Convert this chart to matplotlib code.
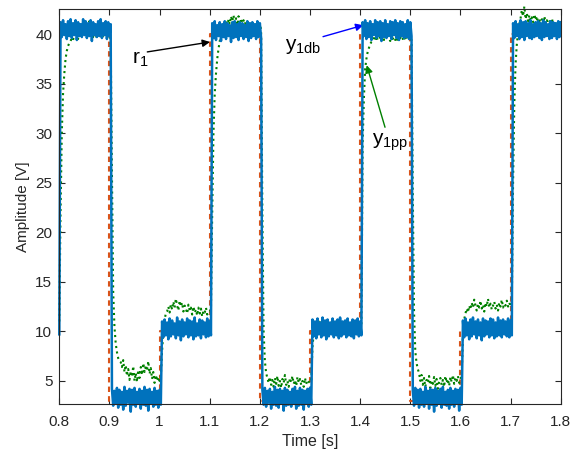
import numpy as np
import matplotlib
matplotlib.use("Agg")
import matplotlib.pyplot as plt

plt.rcParams['font.family'] = ['Liberation Sans', 'DejaVu Sans']
plt.rcParams['mathtext.default'] = 'regular'

# ---------------- data ----------------
# reference r1: step levels between switching times
r_times = [0.8, 0.8, 0.9, 1.0, 1.1, 1.2, 1.3, 1.4, 1.5, 1.6, 1.7, 1.8]
r_levels = [10, 40, 3, 10, 40, 3, 10, 40, 3, 10, 40, 40]

# time span covered by each recorded 0.1 s chunk of the outputs
chunk_start = [0.8, 0.905, 1.005, 1.105, 1.205, 1.305, 1.405, 1.505, 1.605, 1.705]
chunk_end = [0.9025, 1.0025, 1.1025, 1.2025, 1.3025, 1.4025, 1.5025, 1.6025, 1.7025, 1.8]

# y1db output (blue), one list per chunk
y1db_A = [9.7,
          41.2, 39.7, 41.4, 39.9, 41.0, 39.5, 41.3, 39.8, 41.5, 39.6,
          41.1, 39.9, 41.4, 39.4, 41.2, 39.8, 41.0, 39.7, 41.5, 39.9,
          41.3, 39.6, 41.1, 39.8, 41.4, 39.3, 41.2, 39.9, 41.0, 39.7,
          41.3, 39.8, 41.5, 39.6, 41.1, 39.9, 41.3, 39.5, 41.2, 39.8,
          41.0]
y1db_B = [4.2, 2.5, 4.0, 2.7, 4.3, 2.3, 4.1, 2.6, 3.9, 2.1,
          4.4, 2.5, 4.0, 2.8, 4.2, 1.9, 4.1, 2.6, 4.3, 2.4,
          3.9, 2.7, 4.2, 2.2, 4.0, 2.6, 4.4, 2.5, 4.1, 2.0,
          4.2, 2.7, 3.9, 2.4, 4.3, 2.6, 4.0, 2.3, 4.1, 2.6]
y1db_C = [11.0, 9.4, 11.2, 9.6, 10.9, 9.2, 11.3, 9.5, 11.1, 9.7,
          10.8, 9.3, 11.4, 9.6, 11.0, 9.1, 11.2, 9.5, 10.9, 9.7,
          11.3, 9.4, 11.1, 9.6, 11.0, 9.2, 11.4, 9.5, 10.8, 9.6,
          11.2, 9.3, 11.1, 9.7, 10.9, 9.4, 11.3, 9.5, 11.0, 9.6]
y1db_D = [41.1, 39.6, 41.3, 39.4, 40.9, 39.8, 41.2, 39.3, 41.0, 39.7,
          41.3, 39.5, 41.1, 39.8, 40.9, 39.2, 41.2, 39.6, 41.3, 39.7,
          41.0, 39.4, 41.2, 39.8, 41.1, 39.5, 40.9, 39.7, 41.3, 39.3,
          41.1, 39.6, 41.2, 39.8, 41.0, 39.5, 41.3, 39.7, 41.1, 39.6]
y1db_E = [4.1, 2.6, 4.3, 2.4, 4.0, 2.8, 4.2, 2.2, 3.9, 2.6,
          4.4, 2.5, 4.1, 2.3, 4.2, 2.7, 4.0, 2.0, 4.3, 2.5,
          4.1, 2.6, 3.9, 2.4, 4.2, 2.7, 4.4, 2.2, 4.0, 2.5,
          4.3, 2.6, 4.1, 2.1, 4.0, 2.7, 4.2, 2.4, 4.3, 2.6]
y1db_F = [11.2, 9.5, 11.0, 9.3, 11.3, 9.7, 10.9, 9.4, 11.4, 9.6,
          11.1, 9.2, 11.2, 9.5, 10.9, 9.7, 11.3, 9.4, 11.0, 9.6,
          11.2, 9.3, 11.4, 9.5, 11.0, 9.7, 11.1, 9.4, 11.3, 9.6,
          10.9, 9.5, 11.2, 9.3, 11.1, 9.7, 11.3, 9.5, 11.0, 9.6]
y1db_G = [41.2, 39.8, 41.4, 39.5, 41.1, 39.7, 41.3, 39.4, 41.0, 39.9,
          41.4, 39.6, 41.2, 39.8, 41.3, 39.3, 41.1, 39.7, 41.4, 39.6,
          41.0, 39.8, 41.3, 39.5, 41.2, 39.9, 41.4, 39.6, 41.1, 39.4,
          41.3, 39.8, 41.2, 39.6, 41.0, 39.7, 41.4, 39.5, 41.2, 39.8]
y1db_H = [4.0, 2.5, 4.3, 2.7, 4.1, 2.3, 4.2, 2.6, 3.9, 2.4,
          4.4, 2.7, 4.0, 2.2, 4.2, 2.6, 4.1, 1.9, 4.3, 2.5,
          4.0, 2.7, 4.2, 2.3, 4.4, 2.6, 3.9, 2.5, 4.1, 2.2,
          4.3, 2.6, 4.0, 2.4, 4.2, 2.7, 4.1, 2.0, 4.3, 2.6]
y1db_I = [11.1, 9.4, 11.3, 9.6, 10.9, 9.2, 11.2, 9.5, 11.4, 9.7,
          11.0, 9.3, 11.2, 9.6, 10.9, 9.1, 11.3, 9.5, 11.1, 9.7,
          11.0, 9.4, 11.3, 9.6, 11.2, 9.3, 10.9, 9.5, 11.4, 9.6,
          11.1, 9.4, 11.2, 9.7, 11.0, 9.5, 11.3, 9.4, 11.1, 9.6]
y1db_J = [41.1, 39.6, 41.3, 39.8, 41.0, 39.5, 41.4, 39.7, 41.2, 39.4,
          41.3, 39.8, 41.1, 39.6, 41.4, 39.5, 41.0, 39.7, 41.2, 39.8,
          41.3, 39.6, 41.1, 39.4, 41.4, 39.7, 41.2, 39.8, 41.0, 39.5,
          41.3, 39.6, 41.2, 39.8, 41.1, 39.5, 41.3, 39.7, 41.2]

# y1pp output (green), one list per chunk
y1pp_A = [11.0, 22.0, 30.0, 34.0, 36.0, 37.5, 38.3, 38.8, 39.1, 39.3,
          39.6, 39.4, 40.0, 39.7, 40.3, 39.5, 40.6, 40.1, 39.8, 40.9,
          41.2, 40.4, 39.9, 40.7, 41.3, 40.2, 40.5, 39.7, 40.8, 40.0,
          39.6, 40.4, 39.9, 40.2, 39.5, 40.1, 39.7, 40.3, 39.6, 39.9,
          39.8, 39.5]
y1pp_B = [26.0, 14.0, 10.5, 8.8, 7.9, 7.3, 7.0, 6.9, 6.4, 7.1,
          5.9, 6.6, 5.5, 6.2, 5.1, 6.0, 5.4, 6.5, 5.0, 5.8,
          4.9, 6.1, 5.3, 6.4, 5.6, 6.8, 5.9, 6.6, 6.0, 7.0,
          5.7, 6.3, 5.2, 5.9, 4.8, 5.6, 5.0, 5.4, 5.0, 5.5]
y1pp_C = [8.0, 10.0, 11.2, 11.8, 12.0, 12.5, 11.9, 12.7, 12.2, 13.0,
          12.4, 13.3, 12.6, 12.1, 13.1, 12.5, 12.9, 12.0, 12.6, 12.3,
          11.8, 12.7, 12.1, 12.4, 11.7, 12.5, 11.9, 12.2, 11.6, 12.4,
          11.8, 12.3, 11.5, 12.1, 11.9, 12.4, 11.7, 12.0, 12.0, 12.3]
y1pp_D = [22.0, 30.0, 34.0, 36.0, 37.5, 38.5, 39.3, 39.8, 40.2, 40.8,
          40.4, 41.2, 40.7, 41.5, 41.0, 41.8, 41.3, 41.9, 41.1, 41.6,
          40.9, 41.8, 41.2, 41.5, 40.8, 41.4, 41.0, 41.3, 40.7, 41.1,
          40.6, 41.2, 40.8, 40.9, 40.5, 41.0, 40.6, 40.8, 40.9, 40.5]
y1pp_E = [22.0, 10.0, 7.0, 5.8, 5.3, 4.8, 5.4, 4.6, 5.1, 4.4,
          5.3, 4.7, 5.5, 4.5, 5.0, 4.3, 5.2, 4.8, 5.6, 4.6,
          5.0, 4.4, 5.3, 4.9, 5.5, 4.7, 5.1, 4.5, 5.4, 4.8,
          5.2, 4.6, 5.0, 4.4, 5.3, 4.7, 5.1, 4.9, 4.8, 5.0]
y1pp_F = [8.5, 9.8, 10.3, 10.8, 10.4, 11.2, 10.6, 11.0, 10.3, 10.9,
          10.5, 11.1, 10.2, 10.8, 10.4, 10.9, 10.1, 10.7, 10.5, 11.0,
          10.3, 10.8, 10.6, 10.2, 10.9, 10.4, 10.7, 10.1, 10.6, 10.8,
          10.3, 10.9, 10.5, 10.2, 10.7, 10.4, 10.8, 10.3, 10.5, 10.8]
y1pp_G = [29.0, 33.5, 36.5, 37.5, 38.2, 38.6, 39.0, 39.2, 39.3, 39.6,
          39.3, 39.8, 39.4, 40.0, 39.5, 39.7, 40.2, 39.4, 39.8, 39.5,
          40.1, 39.6, 39.3, 39.9, 39.5, 40.0, 39.4, 39.7, 39.3, 39.9,
          39.6, 40.1, 39.5, 39.8, 39.4, 39.7, 39.5, 39.9, 39.6, 39.4]
y1pp_H = [24.0, 12.0, 8.0, 6.8, 6.2, 5.8, 5.0, 5.6, 4.6, 5.3,
          4.4, 5.1, 4.8, 5.5, 4.3, 5.0, 4.7, 5.4, 4.5, 5.2,
          4.2, 4.9, 5.3, 4.6, 5.1, 4.4, 5.5, 4.8, 5.2, 4.5,
          5.4, 4.9, 5.6, 4.7, 5.3, 5.0, 5.5, 4.8, 5.2, 5.5]
y1pp_I = [9.5, 11.2, 11.8, 12.3, 11.9, 12.6, 12.2, 12.9, 12.4, 13.2,
          12.6, 12.1, 12.8, 12.4, 13.1, 12.3, 12.7, 12.0, 12.9, 12.5,
          13.3, 12.4, 12.8, 12.2, 12.6, 13.0, 12.3, 12.7, 12.1, 12.9,
          12.5, 13.2, 12.4, 12.8, 12.6, 13.1, 12.5, 12.9, 12.5, 12.8]
y1pp_J = [25.0, 33.0, 37.0, 39.0, 40.2, 41.0, 41.6, 42.4, 41.8, 42.8,
          41.5, 42.1, 41.3, 41.9, 41.0, 41.7, 41.2, 42.0, 41.4, 41.8,
          41.1, 41.6, 40.9, 41.5, 41.2, 41.8, 41.0, 41.4, 40.8, 41.3,
          41.0, 41.6, 40.9, 41.2, 40.7, 41.3, 41.0, 40.8, 41.1]

x_ticks = [0.8, 0.9, 1.0, 1.1, 1.2, 1.3, 1.4, 1.5, 1.6, 1.7, 1.8]
x_ticklabels = ['0.8', '0.9', '1', '1.1', '1.2', '1.3', '1.4', '1.5', '1.6', '1.7', '1.8']
y_ticks = [5, 10, 15, 20, 25, 30, 35, 40]
y_ticklabels = ['5', '10', '15', '20', '25', '30', '35', '40']

# ---------------- assemble ----------------
def assemble(chunks):
    ts, vs = [], []
    for k, c in enumerate(chunks):
        ts.append(np.linspace(chunk_start[k], chunk_end[k], len(c)))
        vs.append(np.asarray(c, dtype=float))
    return np.concatenate(ts), np.concatenate(vs)

t_db, y1db = assemble([y1db_A, y1db_B, y1db_C, y1db_D, y1db_E,
                       y1db_F, y1db_G, y1db_H, y1db_I, y1db_J])
t_pp, y1pp = assemble([y1pp_A, y1pp_B, y1pp_C, y1pp_D, y1pp_E,
                       y1pp_F, y1pp_G, y1pp_H, y1pp_I, y1pp_J])

# ---------------- plot ----------------
axc = '#262626'
fig = plt.figure(figsize=(5.79, 4.55), dpi=100)
ax = fig.add_axes([0.1024, 0.1114, 0.866, 0.8688])

ax.step(r_times, r_levels, where='post', color='#D95319', lw=1.5,
        linestyle=(0, (2.6, 2.0)), zorder=2)
ax.plot(t_pp, y1pp, color=(0, 0.5, 0), lw=1.5, linestyle=':', zorder=3,
        clip_on=False)
ax.plot(t_db, y1db, color='#0072BD', lw=1.8, zorder=4, clip_on=False)

ax.set_xlim(0.8, 1.8)
ax.set_ylim(2.64, 42.53)
ax.set_xticks(x_ticks)
ax.set_xticklabels(x_ticklabels)
ax.set_yticks(y_ticks)
ax.set_yticklabels(y_ticklabels)
ax.tick_params(direction='in', top=True, right=True, length=4, width=0.8,
               colors=axc, labelsize=11)
ax.tick_params(axis='x', pad=8)
ax.tick_params(axis='y', pad=5)
for s in ax.spines.values():
    s.set_color(axc)
    s.set_linewidth(0.8)
    s.set_zorder(5)

ax.set_xlabel('Time [s]', fontsize=11.5, color=axc, labelpad=3)
ax.set_ylabel('Amplitude [V]', fontsize=11, color=axc, labelpad=4)

# annotations
ax.text(0.9444, 37.06, 'r$_1$', fontsize=15, color='black', ha='left', va='baseline')
ax.annotate('', xy=(1.1005, 39.2), xytext=(0.9755, 38.2),
            arrowprops=dict(arrowstyle='-|>', color='black', lw=1.0,
                            mutation_scale=11, shrinkA=0, shrinkB=0))
ax.text(1.2501, 38.38, 'y$_{1db}$', fontsize=15, color='black', ha='left', va='baseline')
ax.annotate('', xy=(1.4063, 40.9), xytext=(1.326, 39.74),
            arrowprops=dict(arrowstyle='-|>', color=(0, 0, 1), lw=1.0,
                            mutation_scale=11, shrinkA=0, shrinkB=0))
ax.text(1.4243, 28.87, 'y$_{1pp}$', fontsize=15, color='black', ha='left', va='baseline')
ax.annotate('', xy=(1.4131, 36.86), xytext=(1.4496, 30.6),
            arrowprops=dict(arrowstyle='-|>', color=(0, 0.5, 0), lw=1.0,
                            mutation_scale=11, shrinkA=0, shrinkB=0))

fig.savefig('out.png', dpi=100)
